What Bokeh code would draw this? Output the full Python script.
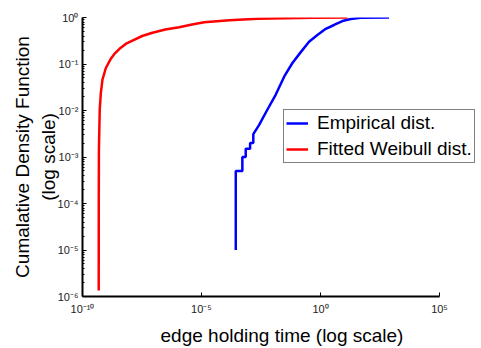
from bokeh.plotting import figure
from bokeh.models import Range1d, FixedTicker, Legend, LegendItem
from bokeh.embed import file_html
from bokeh.resources import INLINE

# ---- data ----
red_x = [4.8e-10, 4.82e-10, 4.9e-10, 5.3e-10, 5.9e-10, 6.9e-10, 9.5e-10, 1.55e-9, 2.3e-9,
         3.5e-9, 6.5e-9, 1.26e-8, 3.2e-8, 8.7e-8, 3.0e-7, 1.15e-6, 4.0e-6, 1.29e-5, 1.5e-4,
         2.24e-3, 0.5, 13.5]
red_y = [1.35e-6, 1.0e-4, 1.5e-3, 0.0105, 0.024, 0.046, 0.081, 0.13, 0.17,
         0.21, 0.27, 0.32, 0.40, 0.47, 0.55, 0.62, 0.71, 0.79, 0.87,
         0.94, 0.99, 1.0]

blue_x = [2.75e-4, 2.75e-4, 5.2e-4, 5.2e-4, 7.2e-4, 7.2e-4, 1.1e-3, 1.1e-3, 1.5e-3, 1.5e-3,
          2.57e-3, 5.9e-3, 0.0132, 0.030, 0.066, 0.148, 0.33, 0.74, 1.66, 3.7, 8.3, 18.6, 49.0, 760.0]
blue_y = [1.0e-5, 5.0e-4, 5.0e-4, 1.0e-3, 1.0e-3, 1.5e-3, 1.5e-3, 2.0e-3, 2.0e-3, 3.1e-3,
          4.8e-3, 0.0105, 0.022, 0.054, 0.105, 0.18, 0.30, 0.42, 0.57, 0.69, 0.84, 0.93, 0.986, 1.0]

x_ticks = [1e-10, 1e-5, 1.0, 1e5]
x_labels = ["10⁻¹⁰", "10⁻⁵", "10⁰", "10⁵"]
y_ticks = [1e-6, 1e-5, 1e-4, 1e-3, 1e-2, 1e-1, 1.0]
y_labels = ["10⁻⁶", "10⁻⁵", "10⁻⁴", "10⁻³", "10⁻²", "10⁻¹", "10⁰"]
y_minor = [m * d for d in y_ticks[:-1] for m in range(2, 10)]

series_names = ["Empirical dist.", "Fitted Weibull dist."]

FONT = "Liberation Sans"

# frame runs to the right edge of the window so the legend is not clipped;
# the x axis line itself stops at 10^5 (bounds)
p = figure(width=481, height=348, x_axis_type="log", y_axis_type="log",
           x_range=Range1d(1e-10, 5.8e6), y_range=Range1d(1e-6, 1.0),
           output_backend="svg", toolbar_location=None,
           min_border_left=82, min_border_right=0, min_border_top=17, min_border_bottom=49)

p.outline_line_color = None
p.xgrid.visible = False
p.ygrid.visible = False

r_blue = p.line(blue_x, blue_y, line_color="#0000ff", line_width=2.5)
r_red = p.line(red_x, red_y, line_color="#ff0000", line_width=2.5)

xa = p.xaxis[0]
xa.ticker = FixedTicker(ticks=x_ticks)
xa.major_label_overrides = {t: l for t, l in zip(x_ticks, x_labels)}
xa.bounds = (1e-10, 1e5)
ya = p.yaxis[0]
ya.ticker = FixedTicker(ticks=y_ticks, minor_ticks=y_minor)
ya.major_label_overrides = {t: l for t, l in zip(y_ticks, y_labels)}

for ax in (xa, ya):
    ax.axis_line_color = "black"
    ax.axis_line_width = 2
    ax.major_tick_in = 4
    ax.major_tick_out = 0
    ax.major_tick_line_color = "black"
    ax.major_tick_line_width = 1
    ax.minor_tick_in = 2
    ax.minor_tick_out = 0
    ax.minor_tick_line_color = "black"
    ax.major_label_text_font = FONT
    ax.major_label_text_font_size = "11px"
    ax.major_label_text_color = "#222222"
    ax.axis_label_text_font = FONT
    ax.axis_label_text_font_size = "19px"
    ax.axis_label_text_font_style = "normal"
    ax.axis_label_text_color = "black"

xa.minor_tick_line_color = None
xa.major_label_standoff = 6
xa.axis_label = "edge holding time (log scale)"
xa.axis_label_standoff = 7
ya.major_label_standoff = 4
ya.axis_label = "Cumalative Density Function\n(log scale)"
ya.axis_label_standoff = -4

legend = Legend(items=[LegendItem(label=series_names[0], renderers=[r_blue]),
                       LegendItem(label=series_names[1], renderers=[r_red])],
                location=(201, 133))
legend.border_line_color = "black"
legend.border_line_width = 1
legend.background_fill_color = "white"
legend.background_fill_alpha = 1
legend.label_text_font = FONT
legend.label_text_font_size = "19px"
legend.label_text_color = "black"
legend.glyph_width = 22
legend.glyph_height = 20
legend.label_height = 20
legend.label_standoff = 9
legend.spacing = 4
legend.padding = 2
legend.margin = 0
p.add_layout(legend, "center")

open("out.html", "w").write(file_html(p, INLINE))
